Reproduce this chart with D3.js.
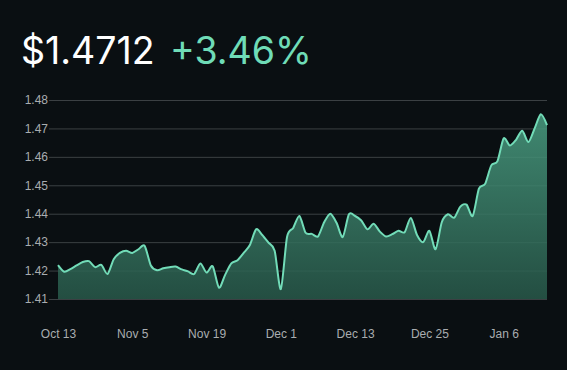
<!DOCTYPE html>
<html lang="en">
<head>
    <meta charset="UTF-8">
    <title>Price chart</title>
    <script src="https://d3js.org/d3.v7.min.js"></script>
    <style>
        body {
            margin: 0;
            padding: 0;
            background-color: #0a0f12;
            overflow: hidden;
        }
        .tick text {
            font-family: "Liberation Sans", Arial, sans-serif;
            font-size: 12px;
            fill: #a9adb0;
        }
    </style>
</head>
<body>
    <div id="chart"></div>

    <script>
        const price = "$1.4712";
        const change = "+3.46%";

        // one value per trading day, oldest first
        const values = [
            1.4219, 1.4196, 1.4205, 1.4218, 1.4230, 1.4233, 1.4212, 1.4220, 1.4188, 1.4240,
            1.4262, 1.4270, 1.4262, 1.4275, 1.4287, 1.4218, 1.4201, 1.4208, 1.4212, 1.4214,
            1.4204, 1.4197, 1.4188, 1.4225, 1.4193, 1.4215, 1.4140, 1.4185, 1.4225, 1.4236,
            1.4262, 1.4290, 1.4345, 1.4325, 1.4298, 1.4270, 1.4135, 1.4318, 1.4350, 1.4392,
            1.4333, 1.4329, 1.4320, 1.4370, 1.4400, 1.4368, 1.4318, 1.4398, 1.4392, 1.4376,
            1.4345, 1.4365, 1.4337, 1.4320, 1.4328, 1.4340, 1.4335, 1.4385, 1.4325, 1.4300,
            1.4340, 1.4275, 1.4370, 1.4398, 1.4386, 1.4425, 1.4432, 1.4392, 1.4488, 1.4505,
            1.4570, 1.4585, 1.4665, 1.4640, 1.4660, 1.4692, 1.4652, 1.4700, 1.4750, 1.4712
        ];

        // labels shown every 12 points
        const dateLabels = ["Oct 13", "Nov 5", "Nov 19", "Dec 1", "Dec 13", "Dec 25", "Jan 6"];
        const labelStep = 12;
        const yTicks = [1.41, 1.42, 1.43, 1.44, 1.45, 1.46, 1.47, 1.48];

        const W = 567, H = 370;
        const margin = { top: 100, right: 20, bottom: 71, left: 58 };

        const svg = d3.select("#chart").append("svg")
            .attr("width", W)
            .attr("height", H);

        // header
        svg.append("text")
            .attr("x", 21)
            .attr("y", 64)
            .attr("fill", "#ffffff")
            .style("font-family", "Inter, sans-serif")
            .style("font-size", "37.5px")
            .text(price);

        svg.append("text")
            .attr("x", 170)
            .attr("y", 64)
            .attr("fill", "#6fdcb7")
            .style("font-family", "Inter, sans-serif")
            .style("font-size", "37.5px")
            .text(change);

        const x = d3.scaleLinear()
            .domain([0, values.length - 1])
            .range([margin.left, W - margin.right]);

        const y = d3.scaleLinear()
            .domain([1.41, 1.48])
            .range([H - margin.bottom, margin.top]);

        const defs = svg.append("defs");
        const grad = defs.append("linearGradient")
            .attr("id", "fillGrad")
            .attr("x1", 0).attr("y1", 0)
            .attr("x2", 0).attr("y2", 1);
        grad.append("stop").attr("offset", "0%").attr("stop-color", "#4a9e82");
        grad.append("stop").attr("offset", "100%").attr("stop-color", "#28594a");

        // y axis with grid lines
        svg.append("g")
            .attr("transform", `translate(${margin.left},0)`)
            .call(d3.axisLeft(y)
                .tickValues(yTicks)
                .tickFormat(d3.format(".2f"))
                .tickSize(-(W - margin.left - margin.right))
                .tickPadding(10))
            .call(g => g.select(".domain").remove())
            .call(g => g.selectAll(".tick line")
                .attr("x1", -9)
                .attr("stroke", "#3b4043"));

        const curve = d3.curveCardinal.tension(0.2);

        const area = d3.area()
            .x((d, i) => x(i))
            .y0(y(1.41))
            .y1(d => y(d))
            .curve(curve);

        const line = d3.line()
            .x((d, i) => x(i))
            .y(d => y(d))
            .curve(curve);

        svg.append("path")
            .datum(values)
            .attr("d", area)
            .attr("fill", "url(#fillGrad)")
            .attr("opacity", 0.85);

        svg.append("path")
            .datum(values)
            .attr("d", line)
            .attr("fill", "none")
            .attr("stroke", "#72dcb8")
            .attr("stroke-width", 2);

        // x axis labels
        svg.append("g")
            .attr("transform", `translate(0,${H - margin.bottom})`)
            .call(d3.axisBottom(x)
                .tickValues(dateLabels.map((d, i) => i * labelStep))
                .tickFormat((d, i) => dateLabels[i])
                .tickSize(0)
                .tickPadding(30))
            .call(g => g.select(".domain").remove());
    </script>
</body>
</html>
